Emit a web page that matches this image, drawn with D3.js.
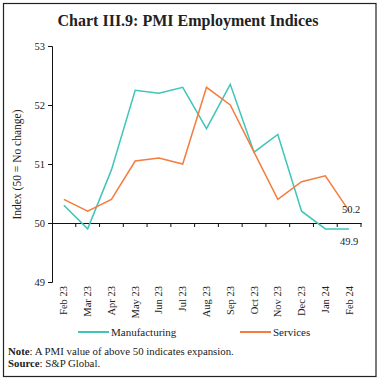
<!DOCTYPE html>
<html><head><meta charset="utf-8">
<script src="https://cdn.jsdelivr.net/npm/d3@7"></script>
<style>body{margin:0;background:#fff}svg{display:block}text{font-family:"Liberation Serif","DejaVu Serif",serif;fill:#222}</style>
</head><body>
<script>
const categories = ["Feb 23","Mar 23","Apr 23","May 23","Jun 23","Jul 23","Aug 23","Sep 23","Oct 23","Nov 23","Dec 23","Jan 24","Feb 24"];
const manufacturing = [50.3,49.9,50.9,52.25,52.2,52.3,51.6,52.35,51.2,51.5,50.2,49.9,49.9];
const services = [50.4,50.2,50.4,51.05,51.1,51.0,52.3,52.0,51.2,50.4,50.7,50.8,50.2];
const yTicks = [49,50,51,52,53];
const seriesNames = ["Manufacturing","Services"];
const colors = ["#3fc6b8","#f47d3e"];

const W=380,H=379;
const svg=d3.select("body").append("svg").attr("width",W).attr("height",H);
svg.append("rect").attr("x",3.5).attr("y",3.5).attr("width",372.5).attr("height",373).attr("fill","none").attr("stroke","#222").attr("stroke-width",1.2);
svg.append("text").attr("x",188).attr("y",26).attr("text-anchor","middle").attr("font-size",16).attr("font-weight","bold").text("Chart III.9: PMI Employment Indices");

const x=d3.scaleBand().domain(categories).range([52,361]);
const y=d3.scaleLinear().domain([49,53]).range([282,46]);

// y axis
const ya=svg.append("g").attr("transform","translate(52,0)").call(d3.axisLeft(y).tickValues(yTicks).tickSize(4).tickFormat(d3.format("d")));
ya.selectAll("text").attr("font-size",10.5).attr("fill","#333").attr("font-family","Liberation Serif");
ya.select(".domain").attr("stroke","#111");
ya.selectAll(".tick line").attr("stroke","#111");

// x axis at 50
const xa=svg.append("g").attr("transform",`translate(0,${y(50)})`).call(d3.axisBottom(x).tickSize(0).tickFormat(""));
xa.select(".domain").attr("stroke","#111");
const bounds=categories.map(c=>x(c)+x.bandwidth());
xa.selectAll(".bt").data(bounds).enter().append("line").attr("x1",d=>d).attr("x2",d=>d).attr("y1",0).attr("y2",4).attr("stroke","#111");

// x labels at bottom
svg.append("g").selectAll("text").data(categories).enter().append("text")
 .attr("transform",d=>`translate(${x(d)+x.bandwidth()/2+3.5},${286}) rotate(-90)`)
 .attr("text-anchor","end").attr("font-size",10.5).attr("fill","#333").text(d=>d);

// y label
svg.append("text").attr("transform","translate(21,164.5) rotate(-90)").attr("text-anchor","middle").attr("font-size",11.5).attr("fill","#333").text("Index (50 = No change)");

const line=d3.line().x((d,i)=>x(categories[i])+x.bandwidth()/2).y(d=>y(d));
[manufacturing,services].forEach((s,i)=>{
  svg.append("path").datum(s).attr("d",line).attr("fill","none").attr("stroke",colors[i]).attr("stroke-width",1.5);
});
const last=categories.length-1;
svg.append("text").attr("x",x(categories[last])+x.bandwidth()/2+2).attr("y",y(services[last])+2).attr("text-anchor","middle").attr("font-size",10.5).attr("fill","#333").text(d3.format(".1f")(services[last]));
svg.append("text").attr("x",x(categories[last])+x.bandwidth()/2).attr("y",y(manufacturing[last])+16).attr("text-anchor","middle").attr("font-size",10.5).attr("fill","#333").text(d3.format(".1f")(manufacturing[last]));

// legend
const lg=[{x:78,name:seriesNames[0],c:colors[0]},{x:240,name:seriesNames[1],c:colors[1]}];
lg.forEach(l=>{
  svg.append("line").attr("x1",l.x).attr("x2",l.x+31).attr("y1",332).attr("y2",332).attr("stroke",l.c).attr("stroke-width",2);
  svg.append("text").attr("x",l.x+33).attr("y",336).attr("font-size",11).attr("fill","#333").text(l.name);
});

const note=svg.append("text").attr("x",8).attr("y",355).attr("font-size",10.8);
note.append("tspan").attr("font-weight","bold").text("Note");
note.append("tspan").text(": A PMI value of above 50 indicates expansion.");
const src=svg.append("text").attr("x",8).attr("y",366.5).attr("font-size",10.8);
src.append("tspan").attr("font-weight","bold").text("Source");
src.append("tspan").text(": S&P Global.");
</script>
</body></html>
